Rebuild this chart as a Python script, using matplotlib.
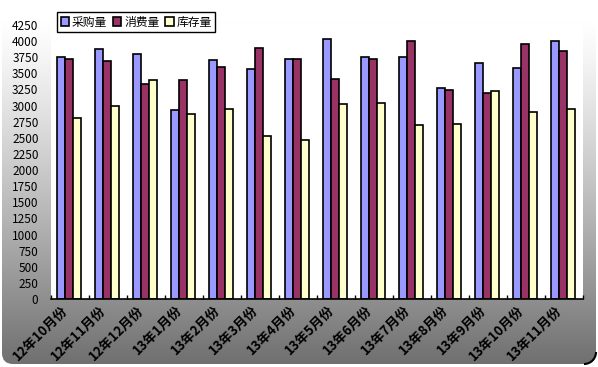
import matplotlib.pyplot as plt
import matplotlib.transforms as mtransforms
import numpy as np
from matplotlib.patches import FancyBboxPatch, Arc

plt.rcParams['font.family'] = ['Noto Sans CJK SC', 'DejaVu Sans']

months = ['12年10月份', '12年11月份', '12年12月份', '13年1月份', '13年2月份',
          '13年3月份', '13年4月份', '13年5月份', '13年6月份', '13年7月份',
          '13年8月份', '13年9月份', '13年10月份', '13年11月份']
purchase = [3750, 3870, 3800, 2930, 3700, 3560, 3720, 4030, 3760, 3750, 3270, 3660, 3590, 4000]
consume = [3730, 3690, 3330, 3400, 3600, 3890, 3720, 3420, 3730, 4000, 3240, 3200, 3950, 3840]
stock = [2800, 3000, 3400, 2870, 2950, 2530, 2470, 3020, 3040, 2700, 2710, 3220, 2900, 2940]

W, H = 598, 367
fig = plt.figure(figsize=(W / 100, H / 100), dpi=100)
fig.patch.set_facecolor('white')

# background panel: vertical grey gradient inside a rounded box
bg = fig.add_axes([0, 0, 1, 1])
bg.set_xlim(0, W)
bg.set_ylim(H, 0)
bg.axis('off')
panel = FancyBboxPatch((2, 0), 594, 364, boxstyle='round,pad=0,rounding_size=11',
                       facecolor='none', edgecolor='none', transform=bg.transData)
bg.add_patch(panel)
yy = np.arange(H)[:, None].astype(float)
v = 255 - 143 * np.clip((yy - 20) / 342, 0, 1) ** 1.2
v = np.repeat(v, 2, axis=1) / 255.0
im = bg.imshow(np.dstack([v, v, v]), extent=[0, W, H, 0], aspect='auto', zorder=1)
im.set_clip_path(panel)
bg.add_patch(Arc((584, 352), 24, 24, theta1=0, theta2=90, color='black', lw=1.5,
                 transform=bg.transData, zorder=2))

ax = fig.add_axes([51 / W, 68 / H, 532 / W, 274 / H])
ax.set_facecolor('white')
x = np.arange(len(months))
bw = 0.215
ax.bar(x - bw - 0.03, purchase, bw, color='#9999FF', edgecolor='black', lw=1.2, label='采购量')
ax.bar(x - 0.03, consume, bw, color='#993366', edgecolor='black', lw=1.2, label='消费量')
ax.bar(x + bw - 0.03, stock, bw, color='#FFFFCC', edgecolor='black', lw=1.2, label='库存量')

ax.set_xlim(-0.5, len(months) - 0.5)
ax.set_ylim(0, 4250)
ax.set_yticks(np.arange(0, 4251, 250))
ax.tick_params(axis='y', length=0, pad=9, labelsize=8.5)
ax.set_xticks(x)
ax.set_xticklabels(months, rotation=45, ha='right', rotation_mode='anchor',
                   fontsize=9.5, fontweight='bold')
ax.tick_params(axis='x', which='major', length=0, pad=3)
shift = mtransforms.ScaledTranslation(-0.09, 0, fig.dpi_scale_trans)
for lab in ax.get_xticklabels():
    lab.set_transform(lab.get_transform() + shift)
ax.set_xticks(np.arange(-0.5, len(months), 1), minor=True)
ax.tick_params(axis='x', which='minor', direction='in', length=3, width=1)
for s in ['top', 'right', 'left']:
    ax.spines[s].set_visible(False)
ax.spines['bottom'].set_linewidth(1.2)

fig.legend(loc='upper left', bbox_to_anchor=(57 / W, 1 - 12 / H), ncol=3,
           fontsize=8.5, frameon=True, fancybox=False, edgecolor='black', framealpha=1,
           handlelength=0.7, handleheight=0.7, handletextpad=0.25, columnspacing=0.5,
           borderpad=0.3, borderaxespad=0)

fig.savefig('out.png', dpi=100)
